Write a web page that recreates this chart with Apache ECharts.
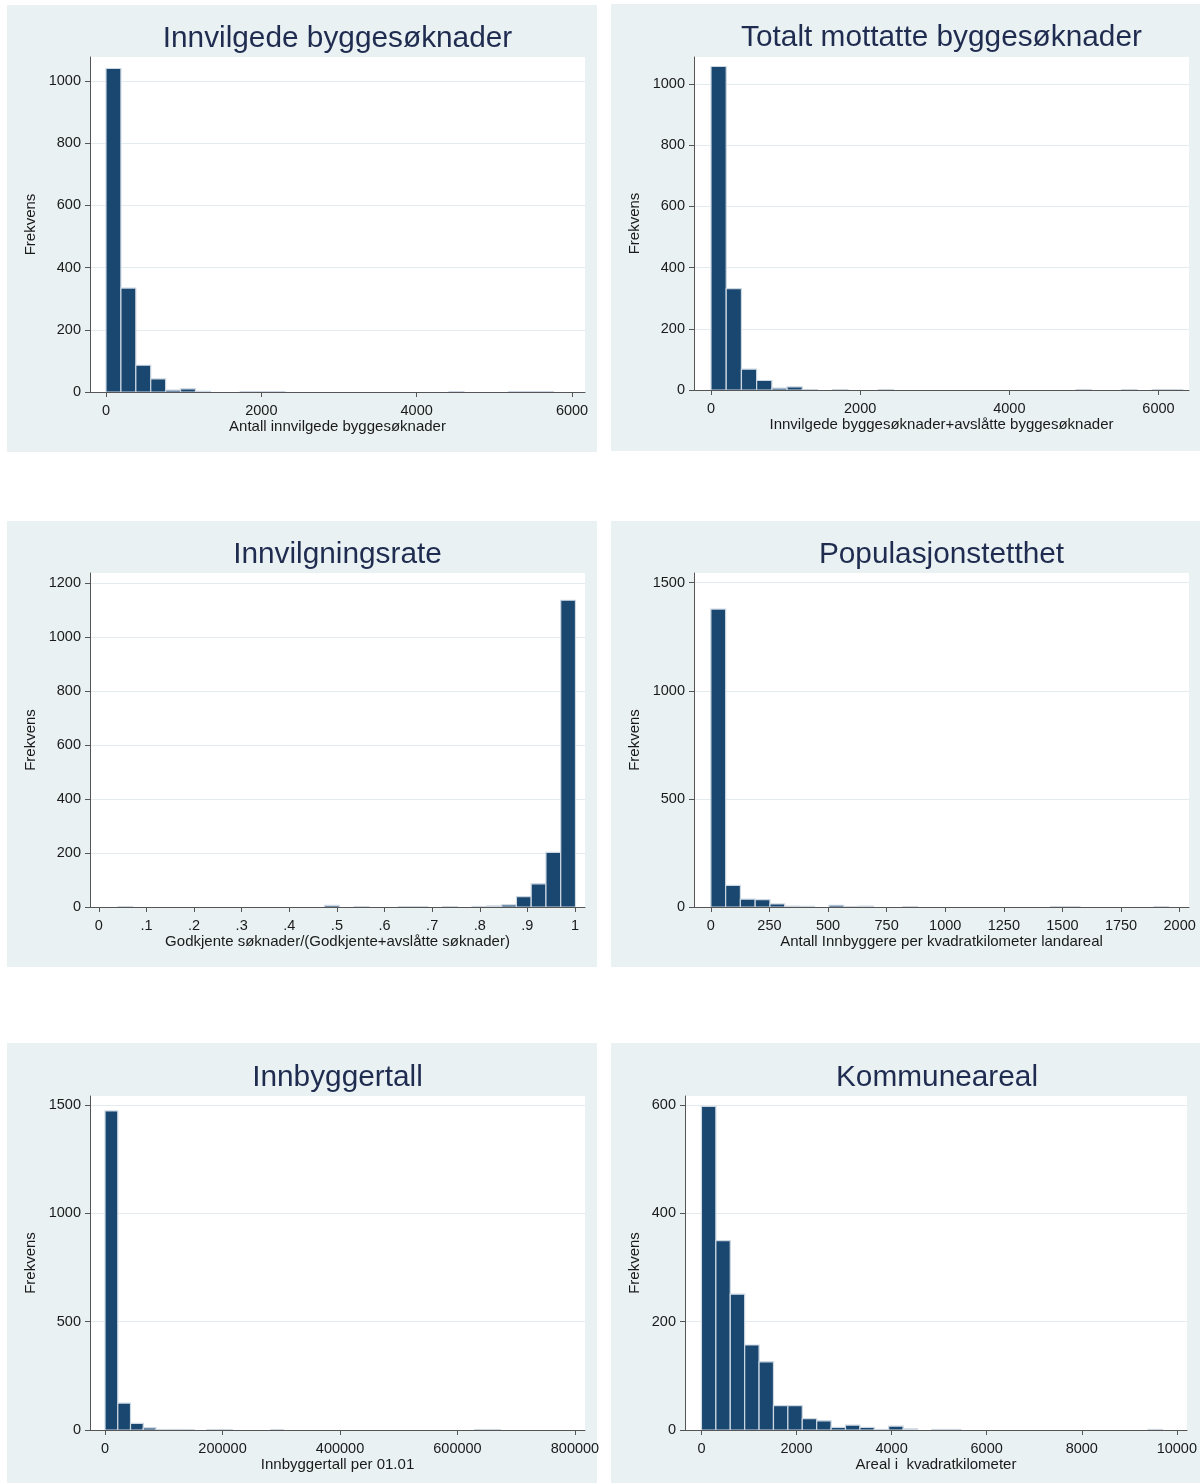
<!DOCTYPE html>
<html>
<head>
<meta charset="utf-8">
<script src="https://cdn.jsdelivr.net/npm/echarts@6/dist/echarts.min.js"></script>
<style>
  html, body { margin: 0; padding: 0; background: #ffffff; }
  #main { width: 1200px; height: 1483px; }
</style>
</head>
<body>
<div id="main"></div>
<script>
// histogrammer: start på første bin, binbredde og frekvens per bin
var innvilgedeStart = 0;
var innvilgedeWidth = 192;
var innvilgedeCounts = [1040, 334, 86, 42, 6, 10, 2, 0, 0, 1, 1, 1, 0, 0, 0, 0, 0, 0, 0, 0, 0, 0, 0, 1, 0, 0, 0, 1, 1, 1, 0];
var innvilgedeXTicks = [0, 2000, 4000, 6000];
var innvilgedeYTicks = [0, 200, 400, 600, 800, 1000];

var totaltStart = 0;
var totaltWidth = 204;
var totaltCounts = [1057, 331, 68, 31, 6, 10, 1, 0, 1, 0, 0, 1, 0, 0, 0, 0, 0, 0, 0, 0, 0, 0, 0, 0, 1, 0, 0, 1, 0, 1, 1];
var totaltXTicks = [0, 2000, 4000, 6000];
var totaltYTicks = [0, 200, 400, 600, 800, 1000];

var rateStart = 0.04;
var rateWidth = 0.031;
var rateCounts = [1, 0, 0, 0, 0, 0, 0, 0, 0, 0, 0, 0, 0, 0, 6, 0, 1, 0, 0, 1, 1, 0, 1, 0, 2, 4, 8, 38, 86, 202, 1136];
var rateXTicks = [0, 0.1, 0.2, 0.3, 0.4, 0.5, 0.6, 0.7, 0.8, 0.9, 1];
var rateYTicks = [0, 200, 400, 600, 800, 1000, 1200];

var tetthetStart = 0;
var tetthetWidth = 63;
var tetthetCounts = [1378, 100, 36, 34, 14, 4, 3, 0, 8, 2, 4, 0, 0, 1, 0, 0, 0, 0, 0, 0, 0, 0, 0, 1, 1, 0, 0, 0, 0, 0, 1];
var tetthetXTicks = [0, 250, 500, 750, 1000, 1250, 1500, 1750, 2000];
var tetthetYTicks = [0, 500, 1000, 1500];

var innbyggerStart = 0;
var innbyggerWidth = 21700;
var innbyggerCounts = [1472, 124, 31, 10, 2, 2, 1, 0, 1, 1, 0, 0, 0, 1, 0, 0, 0, 0, 0, 0, 0, 0, 0, 0, 0, 0, 0, 0, 0, 1, 2];
var innbyggerXTicks = [0, 200000, 400000, 600000, 800000];
var innbyggerYTicks = [0, 500, 1000, 1500];

var arealStart = 0;
var arealWidth = 303;
var arealCounts = [598, 350, 251, 157, 126, 45, 45, 21, 17, 5, 9, 5, 1, 7, 2, 0, 1, 1, 0, 0, 0, 0, 0, 0, 0, 0, 0, 0, 0, 0, 0, 1];
var arealXTicks = [0, 2000, 4000, 6000, 8000, 10000];
var arealYTicks = [0, 200, 400, 600];

var FONT = '"Liberation Sans", Arial, sans-serif';
var BG = '#e9f1f3';
var BAR = '#1a476f';
var EDGE = '#cdd8e3';
var AXIS = '#555555';
var GRIDLINE = '#e3ebee';
var TITLE = '#1f2c50';
var TEXT = '#1a1a1a';

var panels = [
    { title: 'Innvilgede byggesøknader', xName: 'Antall innvilgede byggesøknader',
      start: innvilgedeStart, width: innvilgedeWidth, counts: innvilgedeCounts,
      xTicks: innvilgedeXTicks, yTicks: innvilgedeYTicks,
      bg: [7, 5, 590, 447], grid: { left: 90, top: 57, width: 495, height: 335 },
      xMin: -206, xMax: 6167, yMax: 1077, yInterval: 200, titleY: 24, nameGap: 52 },
    { title: 'Totalt mottatte byggesøknader', xName: 'Innvilgede byggesøknader+avslåtte byggesøknader',
      start: totaltStart, width: totaltWidth, counts: totaltCounts,
      xTicks: totaltXTicks, yTicks: totaltYTicks,
      bg: [611, 4, 589, 447], grid: { left: 694, top: 57, width: 495, height: 333 },
      xMin: -228, xMax: 6409, yMax: 1088, yInterval: 200, titleY: 23, nameGap: 52 },
    { title: 'Innvilgningsrate', xName: 'Godkjente søknader/(Godkjente+avslåtte søknader)',
      start: rateStart, width: rateWidth, counts: rateCounts,
      xTicks: rateXTicks, yTicks: rateYTicks,
      bg: [7, 521, 590, 446], grid: { left: 90, top: 573, width: 495, height: 334 },
      xMin: -0.0185, xMax: 1.021, yMax: 1237, yInterval: 200, titleY: 540, nameGap: 52,
      xFormat: function (v) { return (v === 0 || v === 1) ? String(v) : String(v).replace(/^0\./, '.'); } },
    { title: 'Populasjonstetthet', xName: 'Antall Innbyggere per kvadratkilometer landareal',
      start: tetthetStart, width: tetthetWidth, counts: tetthetCounts,
      xTicks: tetthetXTicks, yTicks: tetthetYTicks,
      bg: [611, 521, 589, 446], grid: { left: 694, top: 573, width: 495, height: 334 },
      xMin: -72, xMax: 2040, yMax: 1545, yInterval: 500, titleY: 540, nameGap: 52 },
    { title: 'Innbyggertall', xName: 'Innbyggertall per 01.01',
      start: innbyggerStart, width: innbyggerWidth, counts: innbyggerCounts,
      xTicks: innbyggerXTicks, yTicks: innbyggerYTicks,
      bg: [7, 1043, 590, 440], grid: { left: 90, top: 1096, width: 495, height: 334 },
      xMin: -25575, xMax: 817050, yMax: 1541, yInterval: 500, titleY: 1063, nameGap: 52 },
    { title: 'Kommuneareal', xName: 'Areal i  kvadratkilometer',
      start: arealStart, width: arealWidth, counts: arealCounts,
      xTicks: arealXTicks, yTicks: arealYTicks,
      bg: [611, 1043, 589, 440], grid: { left: 685, top: 1096, width: 504, height: 334 },
      xMin: -346, xMax: 10214, yMax: 617, yInterval: 200, titleY: 1063, nameGap: 43 }
];

function plainNumber(v) {
    return String(v);
}

function renderBar(params, api) {
    var top = api.coord([api.value(0), api.value(2)]);
    var base = api.coord([api.value(1), 0]);
    return {
        type: 'rect',
        shape: { x: top[0], y: top[1], width: base[0] - top[0], height: base[1] - top[1] },
        style: { fill: BAR, stroke: EDGE, lineWidth: 1.2 }
    };
}

var option = {
    animation: false,
    textStyle: { fontFamily: FONT },
    graphic: [],
    grid: [],
    xAxis: [],
    yAxis: [],
    series: []
};

panels.forEach(function (p, i) {
    option.graphic.push({
        type: 'rect', z: -10, silent: true,
        shape: { x: p.bg[0], y: p.bg[1], width: p.bg[2], height: p.bg[3] },
        style: { fill: BG }
    });
    option.graphic.push({
        type: 'text', silent: true,
        x: p.grid.left + p.grid.width / 2, y: p.titleY,
        style: { text: p.title, fontSize: 29.8, fontFamily: FONT, fill: TITLE, align: 'center', verticalAlign: 'top' }
    });

    option.grid.push({
        left: p.grid.left, top: p.grid.top, width: p.grid.width, height: p.grid.height,
        show: true, backgroundColor: '#ffffff', borderWidth: 0
    });

    option.xAxis.push({
        type: 'value', gridIndex: i, min: p.xMin, max: p.xMax,
        name: p.xName, nameLocation: 'middle', nameGap: 24,
        nameTextStyle: { fontSize: 15, color: TEXT, fontFamily: FONT },
        axisLine: { show: true, onZero: false, lineStyle: { color: AXIS, width: 1 } },
        axisTick: { show: true, length: 5, customValues: p.xTicks, lineStyle: { color: AXIS } },
        axisLabel: { customValues: p.xTicks, margin: 11, fontSize: 14.5, color: TEXT, fontFamily: FONT,
                     formatter: p.xFormat || plainNumber },
        splitLine: { show: false }
    });

    option.yAxis.push({
        type: 'value', gridIndex: i, min: 0, max: p.yMax, interval: p.yInterval,
        name: 'Frekvens', nameLocation: 'middle', nameRotate: 90, nameGap: p.nameGap,
        nameTextStyle: { fontSize: 15, color: TEXT, fontFamily: FONT },
        axisLine: { show: true, onZero: false, lineStyle: { color: AXIS, width: 1 } },
        axisTick: { show: true, length: 5, customValues: p.yTicks, lineStyle: { color: AXIS } },
        axisLabel: { customValues: p.yTicks, margin: 9, fontSize: 14.5, color: TEXT, fontFamily: FONT,
                     formatter: plainNumber },
        splitLine: { show: true, lineStyle: { color: GRIDLINE, width: 1 } }
    });

    var data = p.counts.map(function (c, k) {
        return [p.start + k * p.width, p.start + (k + 1) * p.width, c];
    }).filter(function (d) { return d[2] > 0; });

    option.series.push({
        type: 'custom', xAxisIndex: i, yAxisIndex: i,
        data: data, encode: { x: [0, 1], y: 2 },
        renderItem: renderBar, clip: true
    });
});

var myChart = echarts.init(document.getElementById('main'));
myChart.setOption(option);

window.addEventListener('resize', function () {
    myChart.resize();
});
</script>
</body>
</html>
